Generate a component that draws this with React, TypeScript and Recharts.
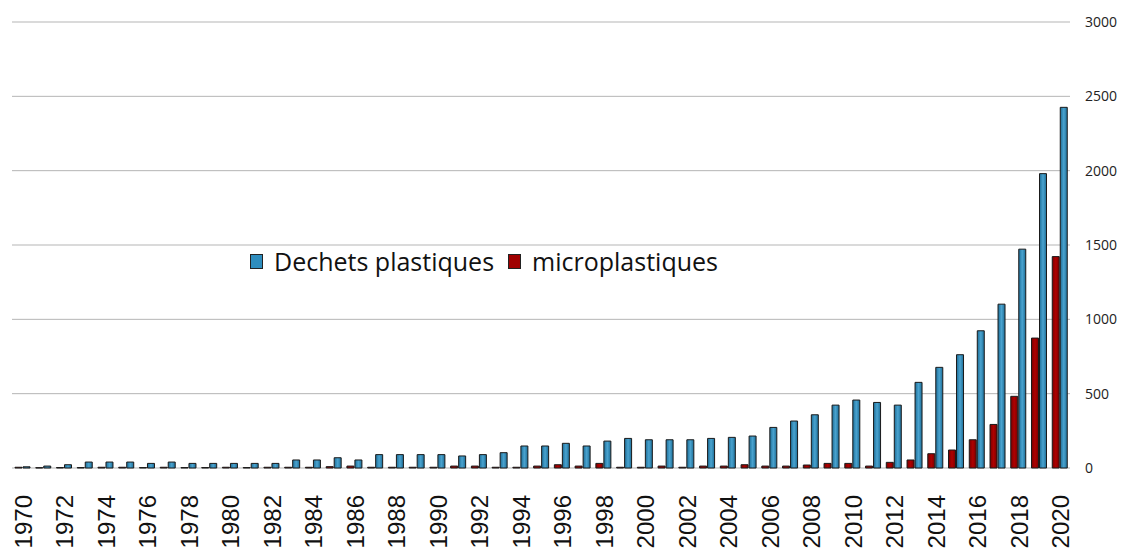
import React from "react";
import { BarChart, Bar, XAxis, YAxis, CartesianGrid, Legend } from "recharts";

const years: string[] = [
  "1970","1971","1972","1973","1974","1975","1976","1977","1978","1979",
  "1980","1981","1982","1983","1984","1985","1986","1987","1988","1989",
  "1990","1991","1992","1993","1994","1995","1996","1997","1998","1999",
  "2000","2001","2002","2003","2004","2005","2006","2007","2008","2009",
  "2010","2011","2012","2013","2014","2015","2016","2017","2018","2019","2020",
];

const dechetsPlastiques: number[] = [
  8, 13, 22, 40, 40, 40, 31, 40, 31, 31,
  31, 31, 31, 54, 54, 69, 54, 90, 90, 90,
  90, 81, 90, 103, 148, 148, 166, 148, 181, 199,
  190, 190, 190, 199, 206, 215, 273, 316, 358, 423,
  457, 441, 423, 576, 677, 762, 923, 1102, 1472, 1980, 2426,
];

const microplastiques: number[] = [
  5, 2, 3, 3, 5, 5, 3, 5, 3, 3,
  5, 3, 5, 5, 5, 9, 13, 5, 5, 5,
  5, 13, 13, 5, 5, 13, 22, 13, 31, 5,
  5, 13, 5, 13, 13, 22, 13, 13, 20, 31,
  31, 13, 38, 54, 96, 121, 190, 293, 482, 874, 1422,
];

const yTicks: number[] = [0, 500, 1000, 1500, 2000, 2500, 3000];

const data = years.map((y, i) => ({
  year: y,
  dechets: dechetsPlastiques[i],
  micro: microplastiques[i],
}));

const XTick = (props: any) => {
  const { x, y, payload } = props;
  return (
    <text
      x={x + 1}
      y={y + 19}
      transform={`rotate(-90, ${x + 1}, ${y + 19})`}
      textAnchor="end"
      dy="0.36em"
      fontFamily="'Liberation Sans', Arial, sans-serif"
      fontSize={24}
      fill="#111"
    >
      {payload.value}
    </text>
  );
};

const LegendContent = () => {
  const item = (color: string, label: string) => (
    <div style={{ display: "flex", alignItems: "center", marginRight: 14 }}>
      <div
        style={{
          width: 11,
          height: 13,
          background: color,
          border: "1px solid #222",
          marginRight: 11,
        }}
      />
      <span>{label}</span>
    </div>
  );
  return (
    <div
      style={{
        display: "flex",
        alignItems: "center",
        fontFamily: "'Open Sans', sans-serif",
        fontSize: 25,
        color: "#111",
        whiteSpace: "nowrap",
      }}
    >
      {item("#2E8DBE", "Dechets plastiques")}
      {item("#A00000", "microplastiques")}
    </div>
  );
};

export default function App() {
  return (
    <div style={{ position: "absolute", left: 0, top: 0, background: "#fff" }}>
      <BarChart
        width={1123}
        height={548}
        data={data}
        margin={{ top: 22, right: 0, left: 12, bottom: 0 }}
        barSize={7}
        barGap={1}
      >
        <defs>
          <linearGradient id="blueGrad" x1="0" y1="0" x2="1" y2="0">
            <stop offset="0%" stopColor="#1d6e98" />
            <stop offset="50%" stopColor="#4aa3cf" />
            <stop offset="100%" stopColor="#1d6e98" />
          </linearGradient>
          <linearGradient id="redGrad" x1="0" y1="0" x2="1" y2="0">
            <stop offset="0%" stopColor="#7a0000" />
            <stop offset="50%" stopColor="#b00000" />
            <stop offset="100%" stopColor="#7a0000" />
          </linearGradient>
        </defs>
        <CartesianGrid vertical={false} stroke="#b5b5b5" />
        <XAxis
          dataKey="year"
          interval={1}
          tickLine={false}
          axisLine={false}
          height={80}
          tick={<XTick />}
        />
        <YAxis
          orientation="right"
          domain={[0, 3000]}
          ticks={yTicks}
          tickLine={false}
          axisLine={false}
          width={53}
          tickMargin={9}
          tick={{ fontSize: 14, fill: "#222", fontFamily: "'Open Sans', sans-serif", textAnchor: "start" }}
        />
        <Legend
          layout="horizontal"
          verticalAlign="middle"
          align="center"
          content={<LegendContent />}
          wrapperStyle={{ position: "absolute", left: 250, top: 244, width: "auto" }}
        />
        <Bar
          dataKey="micro"
          name="microplastiques"
          fill="url(#redGrad)"
          stroke="#1a1a1a"
          strokeWidth={1}
          isAnimationActive={false}
        />
        <Bar
          dataKey="dechets"
          name="Dechets plastiques"
          fill="url(#blueGrad)"
          stroke="#1a1a1a"
          strokeWidth={1}
          isAnimationActive={false}
        />
      </BarChart>
    </div>
  );
}
